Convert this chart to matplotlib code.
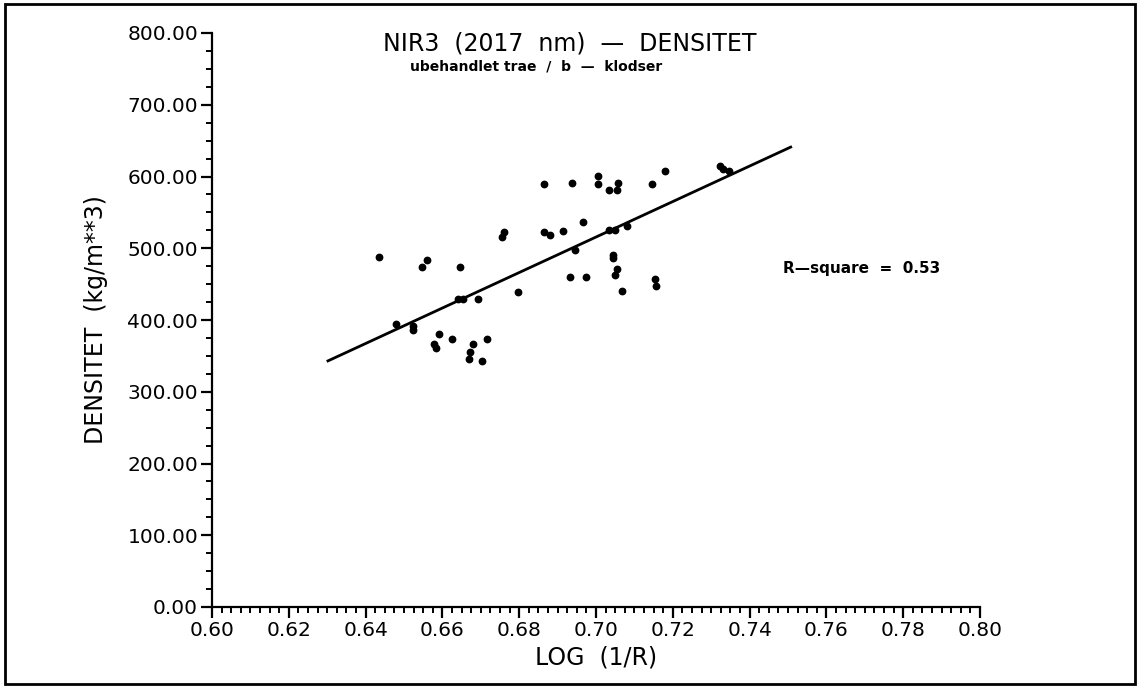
### Scatter plot of density against log(1/R) at NIR3 with a fitted line
import numpy as np
import matplotlib
matplotlib.use('Agg')
import matplotlib.pyplot as plt
from matplotlib.ticker import MultipleLocator, FormatStrFormatter
from matplotlib.patches import Rectangle

### Measured values: log(1/R) and density (kg/m**3)
log_r = [0.6436, 0.6479, 0.6523, 0.6523, 0.6547, 0.6560, 0.6590, 0.6579, 0.6583,
         0.6624, 0.6647, 0.6640, 0.6654, 0.6693, 0.6680, 0.6672, 0.6668, 0.6702,
         0.6717, 0.6797, 0.6756, 0.6761, 0.6865, 0.6865, 0.6880, 0.6938, 0.6914,
         0.6967, 0.6945, 0.6932, 0.6974, 0.7004, 0.7004, 0.7034, 0.7055, 0.7058,
         0.7033, 0.7049, 0.7081, 0.7043, 0.7045, 0.7055, 0.7049, 0.7069, 0.7145,
         0.7179, 0.7153, 0.7155, 0.7324, 0.7331, 0.7347]
density = [488, 394, 392, 386, 474, 483, 381, 367, 361,
           373, 474, 429, 429, 429, 367, 355, 345, 343,
           374, 439, 516, 522, 589, 522, 518, 591, 524,
           537, 498, 460, 460, 601, 589, 581, 581, 591,
           525, 525, 531, 491, 487, 471, 463, 441, 590,
           607, 457, 448, 614, 610, 607]

### Regression line end points
fit_x = [0.6302, 0.7507]
fit_y = [343, 641]
r_square = 0.53

fig = plt.figure(figsize=(11.4, 6.88), dpi=100)
ax = fig.add_axes([212/1140, 81/688, 768/1140, 574/688])

ax.plot(log_r, density, 'o', color='black', markersize=4.6)
ax.plot(fit_x, fit_y, color='black', linewidth=2)

ax.set_xlim(0.60, 0.80)
ax.set_ylim(0, 800)

### Axis styling: only left and bottom lines, outward ticks
for side in ['top', 'right']:
    ax.spines[side].set_visible(False)
for side in ['left', 'bottom']:
    ax.spines[side].set_linewidth(1.6)

ax.xaxis.set_major_locator(MultipleLocator(0.02))
ax.xaxis.set_minor_locator(MultipleLocator(0.0025))
ax.yaxis.set_major_locator(MultipleLocator(100))
ax.yaxis.set_minor_locator(MultipleLocator(25))
ax.xaxis.set_major_formatter(FormatStrFormatter('%.2f'))
ax.yaxis.set_major_formatter(FormatStrFormatter('%.2f'))

ax.tick_params(axis='both', which='major', direction='out', length=8, width=1.6,
               labelsize=14.5, pad=2)
ax.tick_params(axis='both', which='minor', direction='out', length=4.5, width=1.4)

ax.set_xlabel('LOG  (1/R)', fontsize=17, labelpad=4)
ax.set_ylabel('DENSITET  (kg/m**3)', fontsize=17, labelpad=14)

### Titles and annotation
fig.text(383/1140, 1 - 43/688, 'NIR3  (2017  nm)  \u2014  DENSITET', fontsize=17,
         ha='left', va='center')
fig.text(410/1140, 1 - 66/688, 'ubehandlet trae  /  b  \u2014  klodser', fontsize=10,
         fontweight='bold', ha='left', va='center')
fig.text(783/1140, 1 - 268/688, 'R\u2014square  =  %.2f' % r_square, fontsize=11,
         fontweight='bold', ha='left', va='center')

### Frame around the whole figure
fig.patches.append(Rectangle((0.004, 0.006), 0.992, 0.988, transform=fig.transFigure,
                             fill=False, edgecolor='black', linewidth=2))

fig.savefig('out.png', dpi=100)
